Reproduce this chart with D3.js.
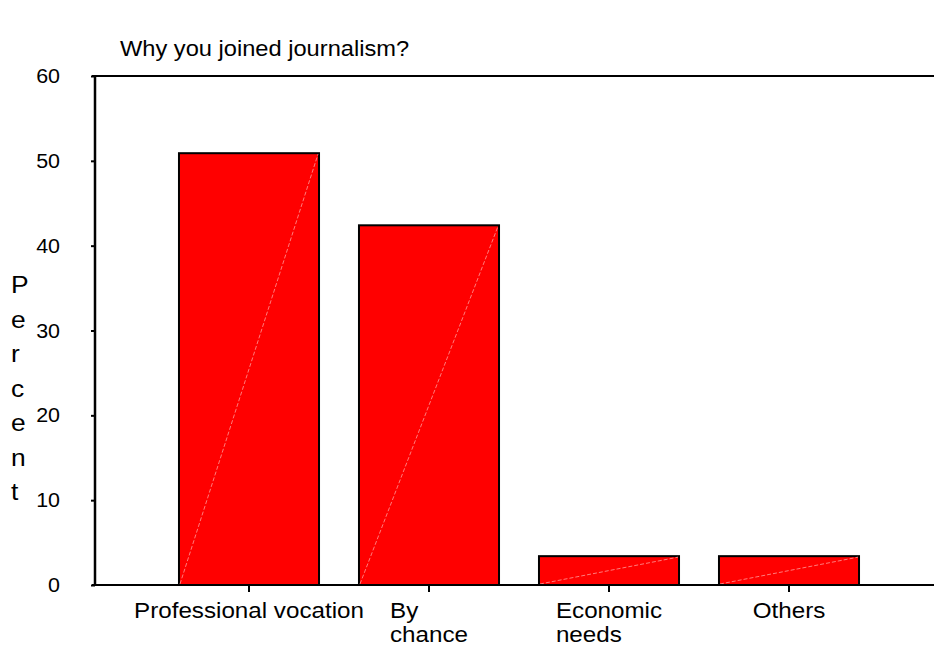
<!DOCTYPE html>
<html>
<head>
<meta charset="utf-8">
<script src="https://cdn.jsdelivr.net/npm/d3@7"></script>
<style>
  body { margin: 0; background: #fff; }
  svg text { font-family: 'Liberation Sans', Arial, sans-serif; fill: #000; }
</style>
</head>
<body>
<div id="chart"></div>
<script>
// Data
const categories = [['Professional vocation'], ['By', 'chance'], ['Economic', 'needs'], ['Others']]
const percents = [50.9, 42.4, 3.4, 3.4]
const yTicks = [0, 10, 20, 30, 40, 50, 60]
const titleText = 'Why you joined journalism?'
const yLabel = 'Percent'

const width = 934
const height = 647
const plot = { left: 95, top: 76, right: 975, bottom: 585 }
const stretch = 1.1 // text looks horizontally stretched in the original

const svg = d3.select('#chart')
  .append('svg')
  .attr('width', width)
  .attr('height', height)

// Scales
const x = d3.scaleBand()
  .domain(d3.range(categories.length))
  .range([159, 879])
  .paddingInner(0.222)
  .paddingOuter(0.111)

const y = d3.scaleLinear()
  .domain([0, 60])
  .range([plot.bottom, plot.top])

// helper for stretched text
const stretchedText = (sel, tx, ty, str, size, anchor) => {
  return sel.append('text')
    .attr('transform', `translate(${tx}, ${ty}) scale(${stretch}, 1)`)
    .attr('font-size', size)
    .attr('text-anchor', anchor || 'start')
    .text(str)
}

// Title
stretchedText(svg, 120, 56, titleText, 21.5)

// Bars
const bars = svg.append('g')
percents.forEach((v, i) => {
  bars.append('rect')
    .attr('x', x(i))
    .attr('y', y(v))
    .attr('width', x.bandwidth())
    .attr('height', y(0) - y(v))
    .attr('fill', '#ff0000')
    .attr('stroke', '#000')
    .attr('stroke-width', 2)
  // faint diagonal seam inside each bar
  bars.append('line')
    .attr('x1', x(i) + 1)
    .attr('y1', y(0) - 1)
    .attr('x2', x(i) + x.bandwidth() - 1)
    .attr('y2', y(v) + 1)
    .attr('stroke', '#ff9a9a')
    .attr('stroke-width', 0.8)
    .attr('stroke-dasharray', '4,2')
})

// Frame: top line and bottom axis line
svg.append('line')
  .attr('x1', plot.left - 3).attr('x2', plot.right)
  .attr('y1', plot.top).attr('y2', plot.top)
  .attr('stroke', '#000').attr('stroke-width', 2)

svg.append('line')
  .attr('x1', plot.left - 3).attr('x2', plot.right)
  .attr('y1', plot.bottom).attr('y2', plot.bottom)
  .attr('stroke', '#000').attr('stroke-width', 2)

// Left axis
const yAxis = svg.append('g')
  .attr('transform', `translate(${plot.left}, 0)`)
  .call(d3.axisLeft(y).tickValues(yTicks).tickSize(4).tickFormat(''))
yAxis.select('.domain').attr('stroke-width', 2.5).attr('d', `M0,${plot.top}V${plot.bottom}`)
yAxis.selectAll('.tick line').attr('stroke-width', 2)

yTicks.forEach(t => {
  stretchedText(svg, 60, y(t) + 7, t, 19.5, 'end')
})

// Bottom axis ticks
const xAxis = svg.append('g')
  .attr('transform', `translate(0, ${plot.bottom})`)
  .call(d3.axisBottom(x).tickSize(7).tickFormat(''))
xAxis.select('.domain').remove()
xAxis.selectAll('.tick line').attr('stroke-width', 2)

// Category labels: lines left aligned inside a block centred on the tick
categories.forEach((lines, i) => {
  const g = svg.append('g')
    .attr('transform', `translate(${x(i) + x.bandwidth() / 2}, 0) scale(${stretch}, 1)`)
  const t = g.append('text').attr('font-size', 22)
  lines.forEach((s, j) => {
    t.append('tspan').attr('x', 0).attr('y', 618 + j * 24).text(s)
  })
  const w = t.node().getBBox().width
  t.attr('transform', `translate(${-w / 2}, 0)`)
})

// Vertical axis title, one letter per line
yLabel.split('').forEach((ch, i) => {
  stretchedText(svg, 11, 293 + i * 34.5, ch, 24)
})
</script>
</body>
</html>
